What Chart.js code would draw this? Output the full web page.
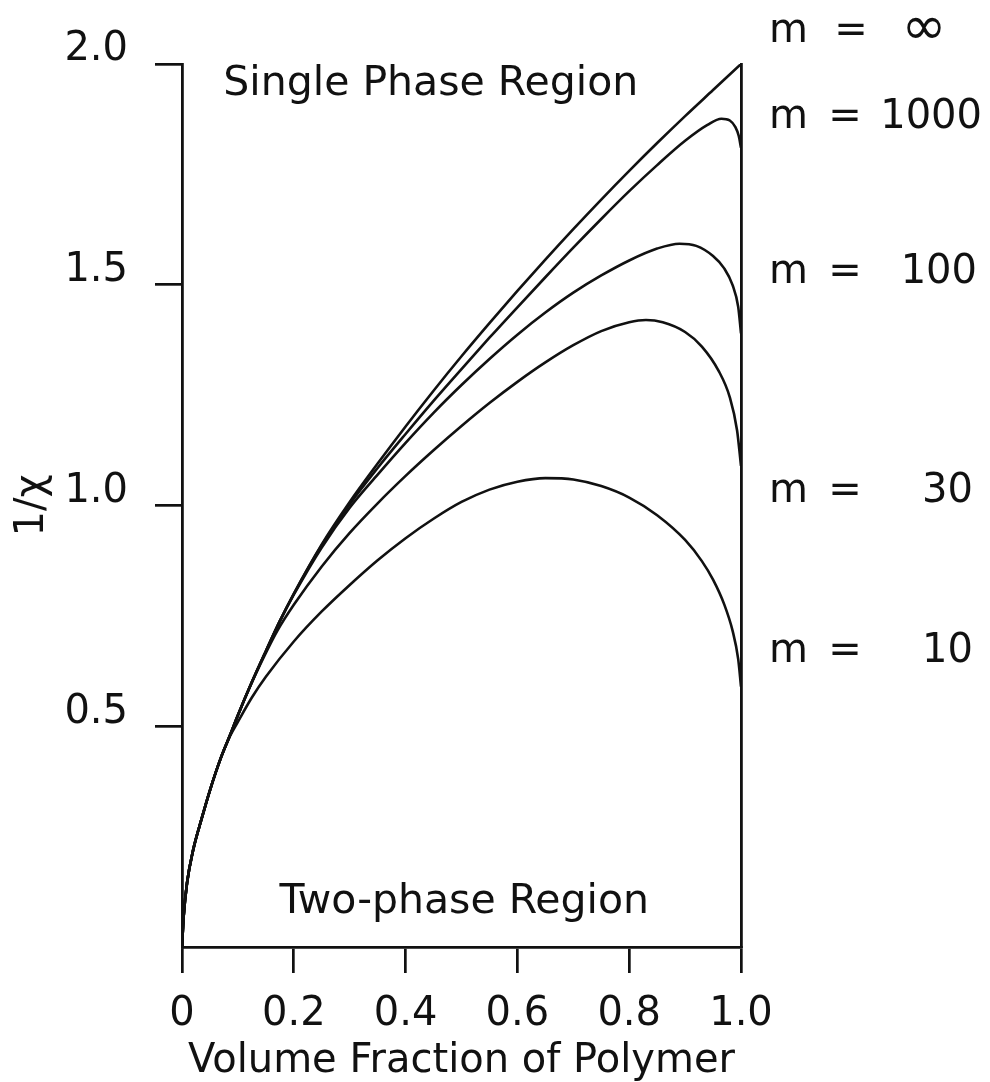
<!DOCTYPE html>
<html>
<head>
<meta charset="utf-8">
<script src="https://cdn.jsdelivr.net/npm/chart.js@4.4.1/dist/chart.umd.min.js"></script>
<style>
  html, body { margin: 0; padding: 0; background: #fff; }
  canvas { display: block; }
</style>
</head>
<body>
<canvas id="chart" width="990" height="1082"></canvas>
<script>
// volume fraction of polymer (x) and 1/chi (y)
const phiInf = [0, 0.003, 0.009, 0.02, 0.035, 0.05, 0.07, 0.086, 0.1, 0.125, 0.15, 0.175, 0.2, 0.25, 0.3, 0.35, 0.4, 0.45, 0.5, 0.55, 0.6, 0.65, 0.7, 0.75, 0.8, 0.85, 0.9, 0.95, 1.0];
const invInf = [0, 0.07, 0.145, 0.22, 0.29, 0.355, 0.43, 0.48, 0.525, 0.6, 0.67, 0.738, 0.8, 0.912, 1.008, 1.095, 1.179, 1.26, 1.338, 1.413, 1.486, 1.557, 1.626, 1.693, 1.758, 1.821, 1.882, 1.941, 2.0];

const phi1000 = [0, 0.003, 0.009, 0.02, 0.035, 0.05, 0.07, 0.086, 0.1, 0.125, 0.15, 0.175, 0.2, 0.25, 0.3, 0.35, 0.4, 0.45, 0.5, 0.55, 0.6, 0.65, 0.7, 0.75, 0.8, 0.85, 0.9, 0.94, 0.965, 0.98, 0.99, 0.996, 1.0];
const inv1000 = [0, 0.07, 0.145, 0.22, 0.29, 0.355, 0.43, 0.48, 0.525, 0.6, 0.67, 0.738, 0.8, 0.91, 1.003, 1.085, 1.162, 1.237, 1.309, 1.38, 1.449, 1.517, 1.584, 1.649, 1.712, 1.771, 1.826, 1.862, 1.876, 1.872, 1.857, 1.837, 1.81];

const phi100 = [0, 0.003, 0.009, 0.02, 0.035, 0.05, 0.07, 0.086, 0.1, 0.125, 0.15, 0.175, 0.2, 0.25, 0.3, 0.35, 0.4, 0.45, 0.5, 0.55, 0.6, 0.65, 0.7, 0.75, 0.8, 0.85, 0.89, 0.92, 0.95, 0.97, 0.985, 0.995, 1.0];
const inv100 = [0, 0.07, 0.145, 0.22, 0.29, 0.355, 0.43, 0.48, 0.525, 0.6, 0.67, 0.738, 0.798, 0.905, 0.995, 1.07, 1.142, 1.21, 1.273, 1.332, 1.387, 1.437, 1.482, 1.521, 1.555, 1.582, 1.593, 1.588, 1.565, 1.537, 1.499, 1.45, 1.39];

const phi30 = [0, 0.003, 0.009, 0.02, 0.035, 0.05, 0.07, 0.086, 0.1, 0.12, 0.14, 0.17, 0.2, 0.25, 0.3, 0.35, 0.4, 0.45, 0.5, 0.55, 0.6, 0.65, 0.7, 0.75, 0.8, 0.83, 0.86, 0.9, 0.93, 0.96, 0.98, 0.993, 1.0];
const inv30 = [0, 0.07, 0.145, 0.22, 0.29, 0.355, 0.43, 0.48, 0.525, 0.585, 0.64, 0.715, 0.775, 0.862, 0.938, 1.005, 1.067, 1.125, 1.18, 1.232, 1.28, 1.324, 1.363, 1.395, 1.415, 1.42, 1.415, 1.393, 1.36, 1.305, 1.245, 1.17, 1.09];

const phi10 = [0, 0.003, 0.009, 0.02, 0.035, 0.05, 0.07, 0.086, 0.1, 0.125, 0.15, 0.2, 0.25, 0.3, 0.35, 0.4, 0.45, 0.5, 0.55, 0.6, 0.65, 0.7, 0.75, 0.8, 0.85, 0.9, 0.93, 0.95, 0.97, 0.985, 0.995, 1.0];
const inv10 = [0, 0.07, 0.145, 0.22, 0.29, 0.355, 0.43, 0.478, 0.51, 0.565, 0.612, 0.692, 0.76, 0.82, 0.876, 0.926, 0.97, 1.008, 1.036, 1.054, 1.062, 1.059, 1.044, 1.018, 0.978, 0.922, 0.874, 0.832, 0.776, 0.716, 0.652, 0.59];

const mValues = ['\u221E', '1000', '100', '30', '10'];
const xTicks = [0, 0.2, 0.4, 0.6, 0.8, 1.0];
const yTicks = [0.5, 1.0, 1.5, 2.0];

// where the text goes (data units for y, px offsets from right axis for x)
const mLabelY = [2.05, 1.855, 1.504, 1.008, 0.646];
const mValueEnd = [183, 241, 236, 232, 232];
const regionText = ['Single Phase Region', 'Two-phase Region'];
const regionX = [0.445, 0.505];
const regionY = [1.93, 0.077];

const ink = '#111';
const FONT = '"DejaVu Sans", sans-serif';

function pts(xs, ys) {
    return xs.map((x, i) => ({ x: x, y: ys[i] }));
}

function curve(xs, ys) {
    return {
        data: pts(xs, ys),
        borderColor: ink,
        borderWidth: 2.6,
        pointRadius: 0,
        cubicInterpolationMode: 'monotone',
        fill: false
    };
}

const textPlugin = {
    id: 'textPlugin',
    afterDraw(chart) {
        const c = chart.ctx;
        const xs = chart.scales.x;
        const ys = chart.scales.y;
        const right = chart.chartArea.right;
        c.save();
        c.fillStyle = ink;
        c.textBaseline = 'alphabetic';

        c.font = '41px ' + FONT;
        regionText.forEach((t, i) => {
            c.textAlign = 'center';
            c.fillText(t, xs.getPixelForValue(regionX[i]), ys.getPixelForValue(regionY[i]));
        });

        mValues.forEach((v, i) => {
            const y = ys.getPixelForValue(mLabelY[i]);
            c.font = '40px ' + FONT;
            c.textAlign = 'left';
            c.fillText('m', right + 28, y);
            c.textAlign = 'center';
            c.fillText('=', right + (i === 0 ? 110 : 104), y);
            if (i === 0) {
                // the infinity sign is drawn wide in the original
                c.font = '54px ' + FONT;
                c.fillText(v, right + mValueEnd[i], y + 2);
            } else {
                c.textAlign = 'right';
                c.fillText(v, right + mValueEnd[i], y);
            }
        });
        c.restore();
    }
};

new Chart(document.getElementById('chart'), {
    type: 'line',
    data: {
        datasets: [
            curve(phiInf, invInf),
            curve(phi1000, inv1000),
            curve(phi100, inv100),
            curve(phi30, inv30),
            curve(phi10, inv10)
        ]
    },
    options: {
        responsive: false,
        animation: false,
        devicePixelRatio: 1,
        layout: { padding: { top: 64, right: 249, left: 0, bottom: 0 } },
        plugins: { legend: { display: false }, tooltip: { enabled: false } },
        scales: {
            x: {
                type: 'linear',
                min: 0,
                max: 1,
                afterBuildTicks: axis => { axis.ticks = xTicks.map(v => ({ value: v })); },
                afterFit: s => { s.height = 135; },
                ticks: {
                    color: ink,
                    font: { family: FONT, size: 40 },
                    padding: 18,
                    maxRotation: 0,
                    callback: v => v === 0 ? '0' : v.toFixed(1)
                },
                grid: { drawOnChartArea: false, drawTicks: true, tickLength: 26, color: ink, lineWidth: 2.7 },
                border: { display: true, color: ink, width: 2.8 },
                title: {
                    display: true,
                    text: 'Volume Fraction of Polymer',
                    color: ink,
                    font: { family: FONT, size: 40 },
                    padding: { top: 0, bottom: -4 }
                }
            },
            y: {
                type: 'linear',
                min: 0,
                max: 2,
                afterBuildTicks: axis => { axis.ticks = yTicks.map(v => ({ value: v })); },
                afterFit: s => { s.width = 182; },
                ticks: {
                    color: ink,
                    font: { family: FONT, size: 40 },
                    padding: 27,
                    labelOffset: -14,
                    callback: v => v.toFixed(1)
                },
                grid: { drawOnChartArea: false, drawTicks: true, tickLength: 27, color: ink, lineWidth: 2.7 },
                border: { display: true, color: ink, width: 2.8 },
                title: {
                    display: true,
                    text: '1/\u03C7',
                    color: ink,
                    font: { family: FONT, size: 40 },
                    padding: { top: 9, bottom: 0 }
                }
            },
            y2: {
                type: 'linear',
                position: 'right',
                min: 0,
                max: 2,
                afterFit: s => { s.width = 0; },
                ticks: { display: false },
                grid: { display: false },
                border: { display: true, color: ink, width: 2.8 }
            }
        }
    },
    plugins: [textPlugin]
});
</script>
</body>
</html>
